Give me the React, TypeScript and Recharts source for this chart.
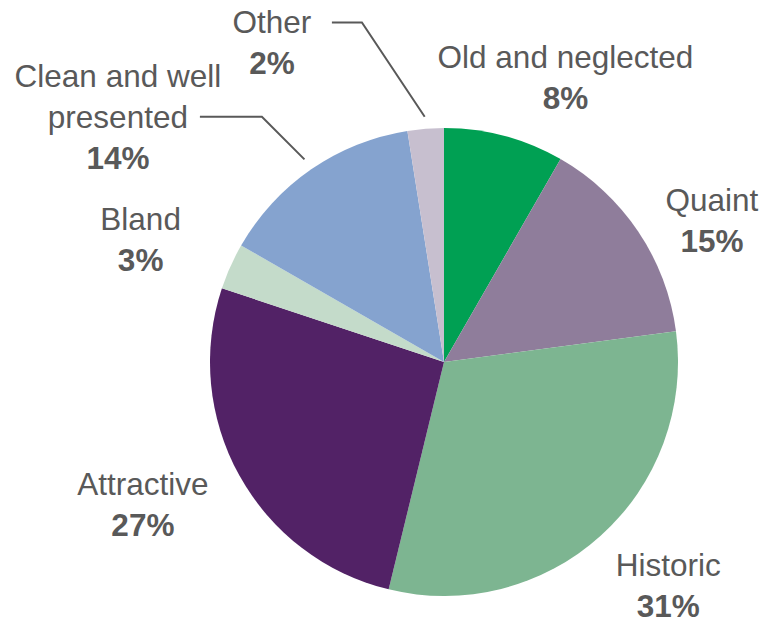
import React from "react";
import { PieChart, Pie, Cell } from "recharts";

const categories = [
  "Old and neglected",
  "Quaint",
  "Historic",
  "Attractive",
  "Bland",
  "Clean and well presented",
  "Other",
];
const shares = [8.3, 14.6, 30.9, 26.3, 3.2, 14.2, 2.5];
const percentLabels = ["8%", "15%", "31%", "27%", "3%", "14%", "2%"];
const nameLines = [
  ["Old and neglected"],
  ["Quaint"],
  ["Historic"],
  ["Attractive"],
  ["Bland"],
  ["Clean and well", "presented"],
  ["Other"],
];
const colors = ["#00A053", "#8F7D9B", "#7DB591", "#522266", "#C4DBCA", "#85A3CF", "#C7BFCF"];

// label layout: angle offset (deg, clockwise) and distance from centre
const labelLayout = [
  { dAng: 8.2, r: 309 },
  { dAng: 6, r: 303 },
  { dAng: -3.1, r: 317 },
  { dAng: 3.7, r: 333 },
  { dAng: -2.2, r: 327 },
  { dAng: -18.5, r: 408 },
  { dAng: -23.8, r: 363 },
];
const leaders: Record<number, { startDx: number; elbowDx: number; lineDy: number }> = {
  5: { startDx: 82, elbowDx: 144, lineDy: 0 },
  6: { startDx: 60, elbowDx: 90, lineDy: -20 },
};

const data = categories.map((c, i) => ({ name: c, value: shares[i] }));

const RAD = Math.PI / 180;
const TEXT = "#595959";
const FONT = "'Liberation Sans', Arial, sans-serif";
const LINE_H = 41;
const FS = 31.5;

const renderLabel = (props: any) => {
  const { cx, cy, midAngle, outerRadius, index } = props;
  const lay = labelLayout[index];
  const ang = midAngle - lay.dAng; // math angle (ccw)
  const x = cx + lay.r * Math.cos(ang * RAD);
  const y = cy - lay.r * Math.sin(ang * RAD);
  const lines = nameLines[index];
  const total = lines.length + 1;
  const top = y - ((total - 1) * LINE_H) / 2;
  const lead = leaders[index];
  let leaderEl = null;
  if (lead) {
    const ex = cx + (outerRadius + 12) * Math.cos(midAngle * RAD);
    const ey = cy - (outerRadius + 12) * Math.sin(midAngle * RAD);
    const pts = `${x + lead.startDx},${y + lead.lineDy} ${x + lead.elbowDx},${y + lead.lineDy} ${ex},${ey}`;
    leaderEl = <polyline points={pts} fill="none" stroke={TEXT} strokeWidth={2} />;
  }
  return (
    <g key={`lbl-${index}`}>
      {leaderEl}
      {lines.map((ln, k) => (
        <text
          key={k}
          x={x}
          y={top + k * LINE_H}
          textAnchor="middle"
          dominantBaseline="central"
          fill={TEXT}
          fontFamily={FONT}
          fontSize={FS}
        >
          {ln}
        </text>
      ))}
      <text
        x={x}
        y={top + lines.length * LINE_H}
        textAnchor="middle"
        dominantBaseline="central"
        fill={TEXT}
        fontFamily={FONT}
        fontSize={FS}
        fontWeight="bold"
      >
        {percentLabels[index]}
      </text>
    </g>
  );
};

export default function App() {
  return (
    <div style={{ position: "absolute", left: 0, top: 0, width: 765, height: 624, background: "#fff" }}>
      <PieChart width={765} height={624} margin={{ top: 0, right: 0, bottom: 0, left: 0 }}>
        <Pie
          data={data}
          dataKey="value"
          nameKey="name"
          cx={444}
          cy={362}
          outerRadius={234}
          startAngle={90}
          endAngle={-270}
          stroke="none"
          label={renderLabel}
          labelLine={false}
          isAnimationActive={false}
        >
          {data.map((d, i) => (
            <Cell key={d.name} fill={colors[i]} />
          ))}
        </Pie>
      </PieChart>
    </div>
  );
}
